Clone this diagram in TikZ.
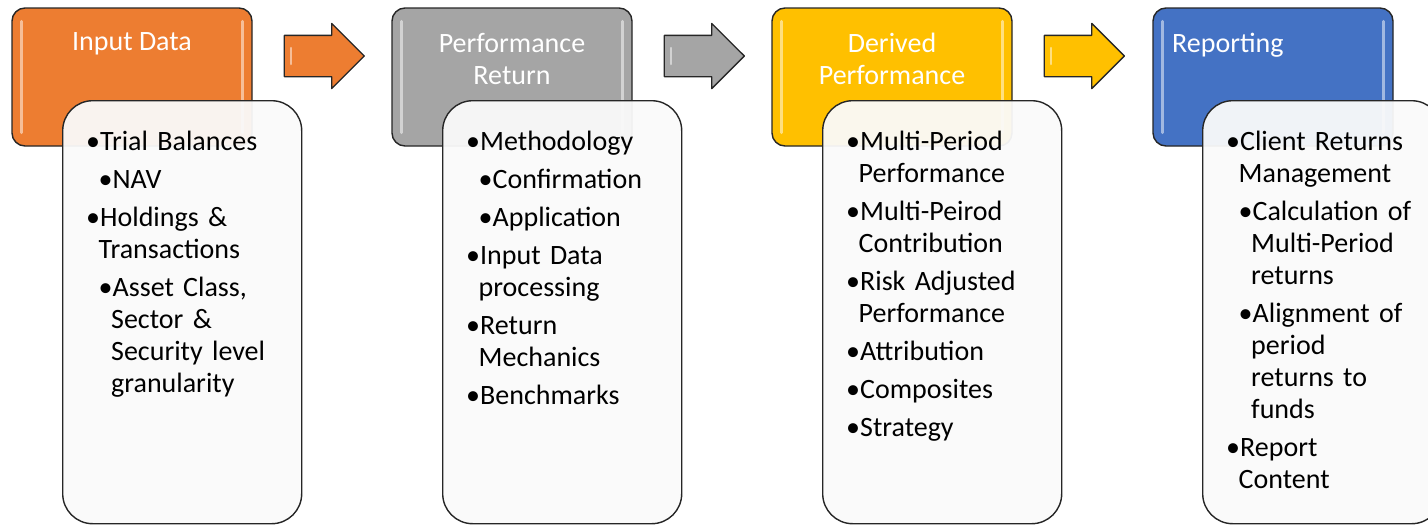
\documentclass[tikz,border=0pt]{standalone}
\usepackage{fontspec}
\setmainfont{Carlito}
\usetikzlibrary{positioning,shapes.arrows}

\definecolor{hdrorange}{HTML}{ED7D31}
\definecolor{hdrgray}{HTML}{A5A5A5}
\definecolor{hdrgold}{HTML}{FFC000}
\definecolor{hdrblue}{HTML}{4472C4}
\definecolor{listfill}{HTML}{FAFAFA}

% bullet items, first and second level
\newcommand{\pitem}[1]{\par\leftskip=0pt\hangindent=12.5pt\hangafter=1\noindent\strut\textbullet#1}
\newcommand{\sitem}[1]{\par\leftskip=12.5pt\hangindent=12.5pt\hangafter=1\noindent\strut\textbullet#1}

\tikzset{
    hdrbox/.style={draw=black!85, line width=1.4pt, rounded corners=13pt, minimum width=240pt, minimum height=138pt, inner sep=0pt},
    hdrtext/.style={text=white, font=\fontsize{28}{32}\selectfont, inner sep=0pt},
    listbox/.style={draw=black!85, line width=1.4pt, rounded corners=30pt, fill=listfill, fill opacity=0.95, minimum width=239pt, minimum height=423pt, inner sep=0pt, anchor=north west},
    listtext/.style={font=\fontsize{28}{32}\selectfont\setlength{\parskip}{6pt}, text width=215pt, align=left, inner sep=0pt, anchor=north west},
    flowarrow/.style={single arrow, draw=black!85, line width=1.3pt, line join=round, minimum height=80pt, minimum width=64pt, single arrow head extend=12pt, single arrow tip angle=90, inner xsep=0pt, inner ysep=20pt},
    gloss/.style={white, opacity=0.5, line width=3pt, line cap=round}
}

\begin{document}
\begin{tikzpicture}[x=1pt, y=-1pt]

    \useasboundingbox (0,0) rectangle (1428,525);

    % Coloured header boxes with their light edge strips
    \foreach \i/\col/\x in {1/hdrorange/12, 2/hdrgray/392, 3/hdrgold/772, 4/hdrblue/1153} {
        \node[hdrbox, fill=\col] (h\i) at (\x+120, 77) {};
        \draw[gloss] ([shift={(10,14)}]h\i.north west) -- ([shift={(10,-14)}]h\i.south west);
        \draw[gloss] ([shift={(-10,14)}]h\i.north east) -- ([shift={(-10,-14)}]h\i.south east);
    }

    % Header titles
    \node[hdrtext, anchor=north, align=center] (t1) at (h1.center |- 0,28) {\strut Input Data};
    \node[hdrtext, anchor=north, align=center] (t2) at (h2.center |- 0,30) {\strut Performance\\Return};
    \node[hdrtext, anchor=north, align=center] (t3) at (h3.center |- 0,30) {\strut Derived\\Performance};
    \node[hdrtext, anchor=north west, align=left] (t4) at (1172,30) {\strut Reporting};

    % Block arrows between the headers
    \foreach \i/\col/\x in {1/hdrorange/314, 2/hdrgray/694, 3/hdrgold/1074} {
        \node[flowarrow, fill=\col] (a\i) at (\x, 56) {};
        \draw[gloss, line width=2.5pt] ([shift={(-23,-8)}]a\i.center) -- ([shift={(-23,8)}]a\i.center);
    }

    % White list boxes overlapping the headers
    \foreach \i/\x in {1/62, 2/442, 3/822, 4/1202} {
        \node[listbox] (b\i) at (\x, 100) {};
    }

    \node[listtext] (l1) at ([shift={(24,12)}]b1.north west) {%
        \pitem{Trial Balances}
        \sitem{NAV}
        \pitem{Holdings \&\newline Transactions}
        \sitem{Asset Class,\newline Sector \&\newline Security level\newline granularity}\par};

    \node[listtext] (l2) at ([shift={(24,12)}]b2.north west) {%
        \pitem{Methodology}
        \sitem{Confirmation}
        \sitem{Application}
        \pitem{Input Data\newline processing}
        \pitem{Return\newline Mechanics}
        \pitem{Benchmarks}\par};

    \node[listtext] (l3) at ([shift={(24,12)}]b3.north west) {%
        \pitem{Multi-Period\newline Performance}
        \pitem{Multi-Peirod\newline Contribution}
        \pitem{Risk Adjusted\newline Performance}
        \pitem{Attribution}
        \pitem{Composites}
        \pitem{Strategy}\par};

    \node[listtext] (l4) at ([shift={(24,12)}]b4.north west) {%
        \pitem{Client Returns\newline Management}
        \sitem{Calculation of\newline Multi-Period\newline returns}
        \sitem{Alignment of\newline period\newline returns to\newline funds}
        \pitem{Report\newline Content}\par};

\end{tikzpicture}
\end{document}
